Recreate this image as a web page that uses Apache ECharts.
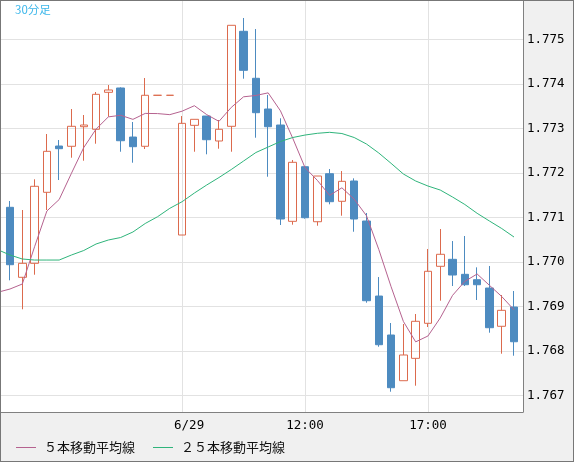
<!DOCTYPE html>
<html><head><meta charset="utf-8">
<script src="https://cdn.jsdelivr.net/npm/echarts@6/dist/echarts.min.js"></script>
<style>
html,body{margin:0;padding:0;background:#f0f0f0;}
#c{width:574px;height:462px;box-sizing:border-box;border:1px solid #777;}
</style></head><body><div id="c"></div>
<script>
// 30-minute candles (JST)
const categories = [
  '6/27 00:00','6/27 00:30','6/27 01:00','6/27 01:30','6/27 02:00','6/27 02:30','6/27 03:00','6/27 03:30',
  '6/27 04:00','6/27 04:30','6/27 05:00','6/27 05:30','6/27 06:00','6/27 06:30',
  '6/29 07:00','6/29 07:30','6/29 08:00','6/29 08:30','6/29 09:00','6/29 09:30','6/29 10:00','6/29 10:30',
  '6/29 11:00','6/29 11:30','6/29 12:00','6/29 12:30','6/29 13:00','6/29 13:30','6/29 14:00','6/29 14:30',
  '6/29 15:00','6/29 15:30','6/29 16:00','6/29 16:30','6/29 17:00','6/29 17:30','6/29 18:00','6/29 18:30',
  '6/29 19:00','6/29 19:30','6/29 20:00','6/29 20:30'
];
const tickCategories = ['6/29 07:00', '6/29 12:00', '6/29 17:00'];
const tickLabels = ['6/29', '12:00', '17:00'];

const opens = [1.771225,1.769652,1.769966,1.771562,1.772602,1.772596,1.773036,1.772978,1.773809,1.773906,
  1.772804,1.772596,1.773742,1.773742,1.770602,1.773067,1.773276,1.772715,1.773045,1.775180,
  1.774124,1.773434,1.773074,1.770910,1.772137,1.770901,1.771980,1.771360,1.771816,1.770917,
  1.769231,1.768355,1.767328,1.767831,1.768618,1.769899,1.770056,1.769719,1.769598,1.769411,
  1.768551,1.768984];
const closes = [1.769935,1.769966,1.771697,1.772483,1.772542,1.773045,1.773074,1.773764,1.773861,1.772721,
  1.772587,1.773742,1.773742,1.773742,1.773112,1.773202,1.772744,1.772978,1.775315,1.774303,
  1.773351,1.773036,1.770962,1.772236,1.770991,1.771928,1.771351,1.771809,1.770962,1.769126,
  1.768137,1.767171,1.767906,1.768663,1.769787,1.770169,1.769703,1.769485,1.769485,1.768519,
  1.768910,1.768204];
const lows = [1.769584,1.768933,1.769710,1.771164,1.771838,1.772339,1.772272,1.772654,1.773261,1.772474,
  1.772227,1.772535,1.773742,1.773742,1.770602,1.772474,1.772416,1.772542,1.772474,1.774115,
  1.772789,1.771912,1.770827,1.770834,1.770969,1.770811,1.771292,1.771036,1.770676,1.769081,
  1.768092,1.767081,1.767328,1.767216,1.768535,1.769126,1.769456,1.769456,1.769142,1.768407,
  1.767935,1.767890];
const highs = [1.771366,1.771164,1.771854,1.772872,1.772737,1.773434,1.773299,1.773816,1.773973,1.773921,
  1.773142,1.774130,1.773742,1.773742,1.773276,1.773202,1.773276,1.773187,1.775315,1.775479,
  1.775231,1.773748,1.773225,1.772288,1.772137,1.771928,1.772085,1.772040,1.771876,1.771097,
  1.769658,1.768625,1.768602,1.768827,1.770288,1.770737,1.770467,1.770580,1.769876,1.769906,
  1.769254,1.769344];
// moving averages, first value belongs to the bar just before the visible window
const ma5 = [1.769315,1.769389,1.769501,1.770339,1.771142,1.771400,1.771990,1.772568,1.772982,1.773257,
  1.773293,1.773201,1.773335,1.773331,1.773307,1.773385,1.773508,1.773308,1.773156,1.773470,
  1.773708,1.773738,1.773797,1.773393,1.772778,1.772115,1.771831,1.771494,1.771663,1.771408,
  1.771035,1.770277,1.769441,1.768660,1.768201,1.768333,1.768739,1.769246,1.769561,1.769726,
  1.769472,1.769220,1.768921];
const ma25 = [1.770272,1.770153,1.770063,1.770040,1.770040,1.770040,1.770153,1.770254,1.770400,1.770490,
  1.770546,1.770670,1.770861,1.771013,1.771202,1.771351,1.771546,1.771726,1.771894,1.772074,
  1.772265,1.772456,1.772580,1.772703,1.772793,1.772849,1.772888,1.772910,1.772883,1.772793,
  1.772647,1.772445,1.772213,1.771973,1.771816,1.771703,1.771613,1.771456,1.771288,1.771090,
  1.770917,1.770748,1.770557];
const seriesNames = ['５本移動平均線', '２５本移動平均線'];

const candleData = categories.map((c, i) => [i, opens[i], closes[i], lows[i], highs[i]]);
const ma5Data = ma5.map((v, k) => [k - 1, v]);
const ma25Data = ma25.map((v, k) => [k - 1, v]);

const UP = '#dc6a4d', DOWN = '#4d8bc0', C5 = '#b5628f', C25 = '#2fb47b';
const GRIDC = '#e2e2e2', AXC = '#808080';
const monoFont = 'DejaVu Sans Mono';
const step = 12.293, firstX = 9, plotW = 522, plotH = 411;
const yMin = 1.766625, yMax = 1.775861;

const chart = echarts.init(document.getElementById('c'), null, {renderer: 'canvas'});
chart.setOption({
  animation: false,
  backgroundColor: '#f0f0f0',
  color: [C5, C25],
  title: {
    text: '30分足', left: 14, top: 3, padding: 0,
    textStyle: {fontSize: 11.5, fontWeight: 'normal', color: '#3ab6ea', fontFamily: 'Noto Sans CJK JP'}
  },
  legend: {
    data: [
      {name: seriesNames[0], itemStyle: {color: C5}},
      {name: seriesNames[1], itemStyle: {color: C25}}
    ],
    icon: 'rect', padding: 0,
    left: 15, top: 440, itemWidth: 20, itemHeight: 1, itemGap: 18,
    textStyle: {fontFamily: 'Noto Sans CJK JP', fontSize: 13, color: '#111', padding: [0, 0, 0, 3]}
  },
  grid: [
    {left: 0, top: 0, width: plotW, height: plotH, show: true, backgroundColor: '#fff', borderWidth: 0},
    {left: firstX, top: 0, width: step * (categories.length - 1), height: plotH, show: false}
  ],
  xAxis: [
    {type: 'value', gridIndex: 0, min: -firstX / step, max: (plotW - firstX) / step,
     axisLine: {show: true, onZero: false, lineStyle: {color: AXC}}, axisTick: {show: false},
     axisLabel: {show: false}, splitLine: {show: false}},
    {type: 'category', gridIndex: 1, data: categories, boundaryGap: false,
     axisLine: {show: false, onZero: false}, axisTick: {show: false},
     axisLabel: {
       interval: (i, v) => tickCategories.indexOf(v) >= 0,
       formatter: (v) => { const k = tickCategories.indexOf(v); return k === 0 ? '{p|' + tickLabels[k] + '}' : tickLabels[k]; },
       margin: 7, fontFamily: monoFont, fontSize: 12.5, color: '#000',
       rich: {p: {padding: [0, 0, 0, 14], fontFamily: monoFont, fontSize: 12.5, color: '#000'}}
     },
     splitLine: {show: true, interval: (i, v) => tickCategories.indexOf(v) >= 0, lineStyle: {color: GRIDC}}}
  ],
  yAxis: [
    {type: 'value', gridIndex: 0, position: 'right', min: yMin, max: yMax, splitNumber: 9,
     axisLine: {show: true, onZero: false, lineStyle: {color: AXC}}, axisTick: {show: false},
     axisLabel: {margin: 4, fontFamily: monoFont, fontSize: 12.5, color: '#000', showMinLabel: false, showMaxLabel: false,
       formatter: (v) => v.toFixed(3)},
     splitLine: {show: true, showMinLine: false, showMaxLine: false, lineStyle: {color: GRIDC}}},
    {type: 'value', gridIndex: 1, min: yMin, max: yMax, show: false, axisLine: {show: false, onZero: false}}
  ],
  series: [
    {type: 'candlestick', xAxisIndex: 0, yAxisIndex: 0, barWidth: 8, data: candleData,
     itemStyle: {color: 'rgba(0,0,0,0)', color0: DOWN, borderColor: UP, borderColor0: DOWN, borderWidth: 1}},
    {type: 'line', name: seriesNames[0], xAxisIndex: 0, yAxisIndex: 0, data: ma5Data, symbol: 'none', showSymbol: false,
     itemStyle: {color: C5}, lineStyle: {color: C5, width: 1}},
    {type: 'line', name: seriesNames[1], xAxisIndex: 0, yAxisIndex: 0, data: ma25Data, symbol: 'none', showSymbol: false,
     itemStyle: {color: C25}, lineStyle: {color: C25, width: 1}}
  ]
});
</script></body></html>
